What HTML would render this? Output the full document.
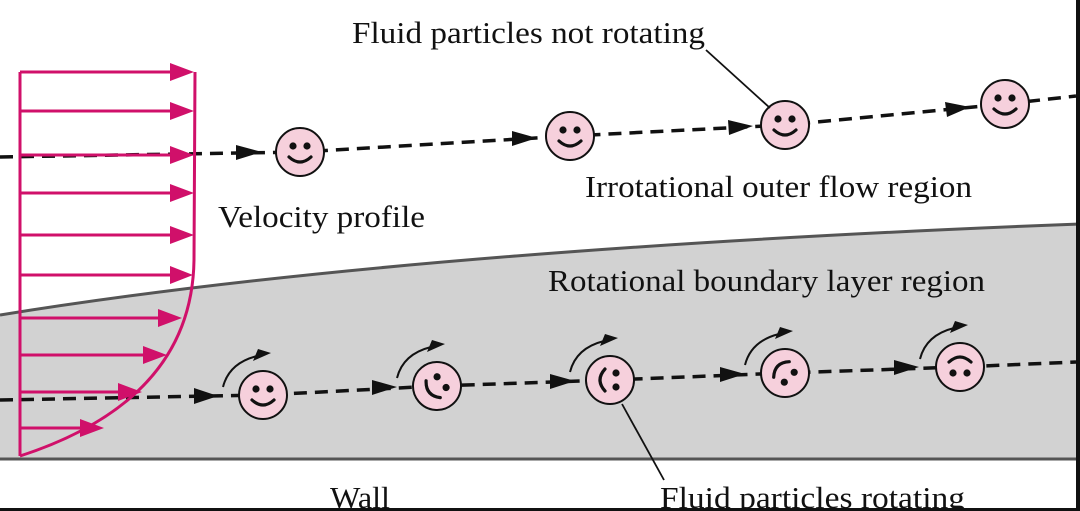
<!DOCTYPE html>
<html><head><meta charset="utf-8"><style>
html,body{margin:0;padding:0;background:#fff}
svg{display:block}
text{font-family:"Liberation Serif",serif;font-size:31px;fill:#111}
</style></head><body>
<svg width="1080" height="511" viewBox="0 0 1080 511" xmlns="http://www.w3.org/2000/svg">
<defs>
<g id="face">
<circle r="24" fill="#f6d0dc" stroke="#111" stroke-width="2"/>
<circle cx="-7" cy="-6" r="3.6" fill="#111"/>
<circle cx="7" cy="-6" r="3.6" fill="#111"/>
<path d="M-11,5 Q0,15 11,5" fill="none" stroke="#111" stroke-width="3.2" stroke-linecap="round"/>
</g>
<g id="rot">
<path d="M-40,-8 Q-34,-32 -6,-39" fill="none" stroke="#111" stroke-width="2"/>
<path d="M-10,-34 L8,-42 L-5,-46 Z" fill="#111"/>
</g>
</defs>
<path d="M0,315 Q400,250 1080,224 L1080,459 L0,459 Z" fill="#d2d2d2"/>
<path d="M0,315 Q400,250 1080,224" fill="none" stroke="#555" stroke-width="3"/>
<line x1="0" y1="459" x2="1080" y2="459" stroke="#555" stroke-width="3"/>
<rect x="1076" y="0" width="4" height="511" fill="#111"/>
<rect x="0" y="508" width="1080" height="3" fill="#111"/>
<path d="M0,157 L300,152 L570,136 L785,125 L1005,104 L1076,96" fill="none" stroke="#111" stroke-width="3.5" stroke-dasharray="13,8"/>
<path d="M236,145 L262,152 L236,160 Z" fill="#111"/>
<path d="M512,131 L537,138 L512,146 Z" fill="#111"/>
<path d="M728,120 L753,126 L729,135 Z" fill="#111"/>
<path d="M945,102 L970,107 L947,117 Z" fill="#111"/>
<path d="M0,400 L263,395 L437,386 L610,380 L785,373 L960,367 L1076,362" fill="none" stroke="#111" stroke-width="3.5" stroke-dasharray="13,8"/>
<path d="M194,388 L218,396 L194,404 Z" fill="#111"/>
<path d="M372,380 L397,387 L372,395 Z" fill="#111"/>
<path d="M550,374 L575,381 L550,389 Z" fill="#111"/>
<path d="M720,367 L745,374 L720,382 Z" fill="#111"/>
<path d="M894,360 L919,367 L894,375 Z" fill="#111"/>
<g stroke="#d0106a" stroke-width="3" fill="none">
<line x1="20" y1="72" x2="20" y2="456"/>
<path d="M195,72 L194,260 Q192,400 20,456"/>
<line x1="20" y1="72" x2="175" y2="72"/>
<line x1="20" y1="111" x2="175" y2="111"/>
<line x1="20" y1="155" x2="175" y2="155"/>
<line x1="20" y1="193" x2="175" y2="193"/>
<line x1="20" y1="235" x2="175" y2="235"/>
<line x1="20" y1="275" x2="175" y2="275"/>
<line x1="20" y1="318" x2="163" y2="318"/>
<line x1="20" y1="355" x2="148" y2="355"/>
<line x1="20" y1="392" x2="122" y2="392"/>
<line x1="20" y1="428" x2="85" y2="428"/>
</g>
<g fill="#d0106a">
<path d="M170,63 L194,72 L170,81 Z"/>
<path d="M170,102 L194,111 L170,120 Z"/>
<path d="M170,146 L194,155 L170,164 Z"/>
<path d="M170,184 L194,193 L170,202 Z"/>
<path d="M170,226 L194,235 L170,244 Z"/>
<path d="M170,266 L193,275 L170,284 Z"/>
<path d="M158,309 L182,318 L158,327 Z"/>
<path d="M143,346 L167,355 L143,364 Z"/>
<path d="M118,383 L142,392 L118,401 Z"/>
<path d="M80,419 L104,428 L80,437 Z"/>
</g>
<use href="#face" x="300" y="152"/>
<use href="#face" x="570" y="136"/>
<use href="#face" x="785" y="125"/>
<use href="#face" x="1005" y="104"/>
<g transform="translate(263,395)"><use href="#rot"/><use href="#face"/></g>
<g transform="translate(437,386)"><use href="#rot"/><g transform="rotate(50)"><use href="#face"/></g></g>
<g transform="translate(610,380)"><use href="#rot"/><g transform="rotate(90)"><use href="#face"/></g></g>
<g transform="translate(785,373)"><use href="#rot"/><g transform="rotate(135)"><use href="#face"/></g></g>
<g transform="translate(960,367)"><use href="#rot"/><g transform="rotate(180)"><use href="#face"/></g></g>
<line x1="706" y1="50" x2="770" y2="108" stroke="#111" stroke-width="1.8"/>
<line x1="622" y1="404" x2="664" y2="480" stroke="#111" stroke-width="1.8"/>
<text x="352" y="43" textLength="353" lengthAdjust="spacingAndGlyphs">Fluid particles not rotating</text>
<text x="218" y="227" textLength="207" lengthAdjust="spacingAndGlyphs">Velocity profile</text>
<text x="585" y="197" textLength="387" lengthAdjust="spacingAndGlyphs">Irrotational outer flow region</text>
<text x="548" y="291" textLength="437" lengthAdjust="spacingAndGlyphs">Rotational boundary layer region</text>
<text x="330" y="508" textLength="60" lengthAdjust="spacingAndGlyphs">Wall</text>
<text x="660" y="508" textLength="305" lengthAdjust="spacingAndGlyphs">Fluid particles rotating</text>
</svg>
</body></html>
